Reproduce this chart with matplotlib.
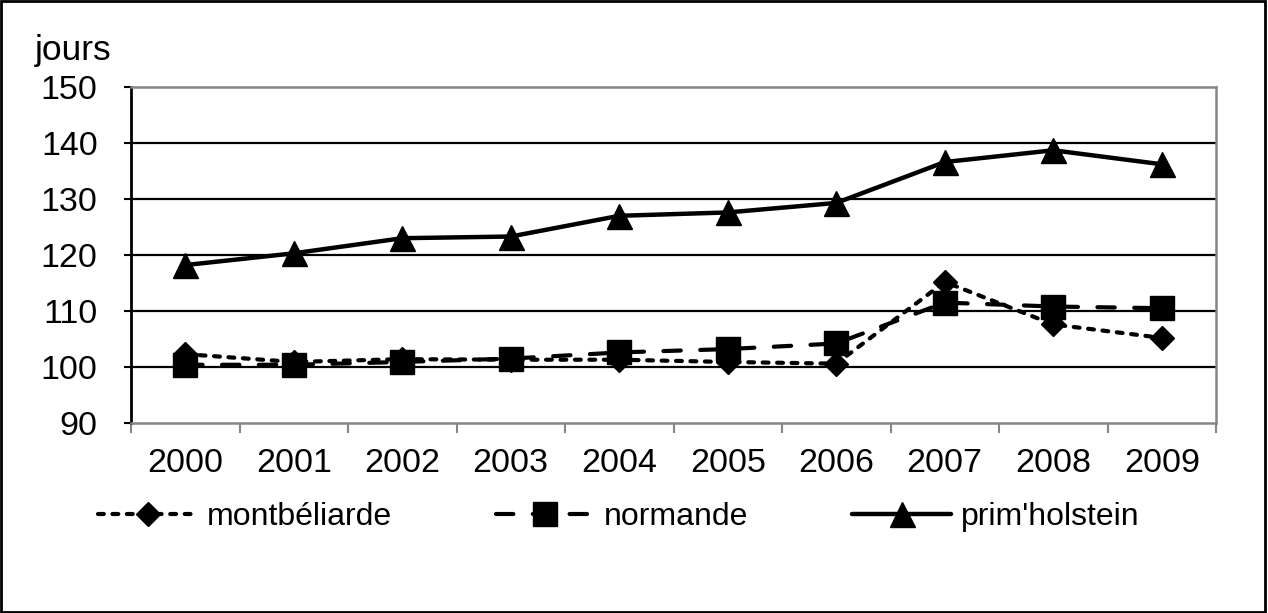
import matplotlib.pyplot as plt
import matplotlib.patches as mpatches
import numpy as np

plt.rcParams['font.family'] = ['Liberation Sans', 'DejaVu Sans']
plt.rcParams['lines.scale_dashes'] = False

# data
years = ["2000", "2001", "2002", "2003", "2004", "2005", "2006", "2007", "2008", "2009"]
montbeliarde = [102.3, 100.9, 101.4, 101.3, 101.3, 100.9, 100.6, 115.2, 107.6, 105.2]
normande = [100.4, 100.4, 100.9, 101.5, 102.6, 103.2, 104.2, 111.5, 110.8, 110.5]
prim_holstein = [118.2, 120.3, 123.0, 123.3, 127.0, 127.6, 129.3, 136.6, 138.7, 136.2]

x = np.arange(len(years))

fig = plt.figure(figsize=(12.68, 6.13), dpi=100)
ax = fig.add_axes([131/1268, 1-423/613, (1216-131)/1268, (423-87)/613])

ax.plot(x, montbeliarde, color='black', lw=3, dashes=(4.2, 6.2), dash_capstyle='round',
        marker='D', ms=12, label='montbéliarde')
ax.plot(x, normande, color='black', lw=3, dashes=(12.5, 14), dash_capstyle='round',
        marker='s', ms=17, label='normande')
ax.plot(x, prim_holstein, color='black', lw=3.2, solid_capstyle='round',
        marker='^', ms=18, label="prim'holstein")

ax.set_xlim(-0.5, 9.5)
ax.set_ylim(90, 150)
ax.set_yticks(range(90, 151, 10))
ax.set_xticks(x)
ax.set_xticklabels(years)
ax.set_xticks(np.arange(-0.5, 10, 1), minor=True)
ax.tick_params(axis='y', labelsize=24.5, length=5, width=1.5, pad=19, color='black')
ax.tick_params(axis='x', which='major', labelsize=24.5, length=0, pad=18)
ax.tick_params(axis='x', which='minor', length=7, width=1.5, color='#868686')

for y in range(100, 150, 10):
    ax.axhline(y, color='black', lw=1.6, zorder=0.5)

for s in ['top', 'right', 'bottom']:
    ax.spines[s].set_color('#868686')
    ax.spines[s].set_linewidth(1.8)
ax.spines['left'].set_color('black')
ax.spines['left'].set_linewidth(2)

fig.text(35/1268, 1-60/613, 'jours', fontsize=25.5, ha='left', va='baseline')

fig.legend(loc='center left', bbox_to_anchor=(98/1268, 1-517/613), ncol=3,
           frameon=False, fontsize=23, handlelength=3.1, handletextpad=0.3,
           columnspacing=3.25, borderpad=0, borderaxespad=0, numpoints=1)

# outer border of the picture
fig.patches.append(mpatches.Rectangle((0.001, 0.002), 0.997, 0.996, transform=fig.transFigure,
                                      fill=False, edgecolor='black', lw=2))

fig.savefig('out.png', dpi=100)
